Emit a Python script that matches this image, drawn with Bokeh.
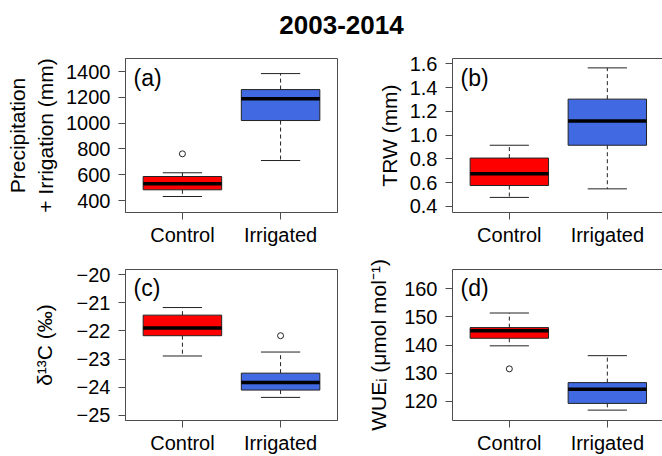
from bokeh.plotting import figure
from bokeh.models import (FixedTicker, LinearAxis, Label, Range1d,
                          PrintfTickFormatter, ColumnDataSource)
from bokeh.layouts import column, row
from bokeh.embed import file_html
from bokeh.resources import INLINE

# ---------------- data ----------------
categories = ["Control", "Irrigated"]
positions = [1, 2]

# (a) Precipitation + Irrigation (mm)
a_low = [431, 710]
a_q1 = [483, 1020]
a_med = [529, 1188]
a_q3 = [586, 1260]
a_high = [615, 1384]
a_out_cat = ["Control"]
a_out_val = [762]
a_ticks = [400, 600, 800, 1000, 1200, 1400]

# (b) TRW (mm)
b_low = [0.476, 0.548]
b_q1 = [0.576, 0.915]
b_med = [0.675, 1.119]
b_q3 = [0.807, 1.303]
b_high = [0.915, 1.566]
b_out_cat = []
b_out_val = []
b_ticks = [0.4, 0.6, 0.8, 1.0, 1.2, 1.4, 1.6]

# (c) d13C (permil)
c_low = [-22.89, -24.36]
c_q1 = [-22.17, -24.10]
c_med = [-21.90, -23.83]
c_q3 = [-21.44, -23.50]
c_high = [-21.17, -22.75]
c_out_cat = ["Irrigated"]
c_out_val = [-22.17]
c_ticks = [-25, -24, -23, -22, -21, -20]

# (d) WUEi
d_low = [139.7, 116.8]
d_q1 = [142.4, 119.2]
d_med = [145.1, 124.2]
d_q3 = [146.2, 126.6]
d_high = [151.4, 136.2]
d_out_cat = ["Control"]
d_out_val = [131.5]
d_ticks = [120, 130, 140, 150, 160]

TITLE = "2003-2014"

FILLS = ["#FF0000", "#4169E1"]
FRAME = "#4d4d4d"
FONT = "Liberation Sans"
BOXW = 0.8
CAPW = 0.4


def panel(tag, ylabel, low, q1, med, q3, high, out_cat, out_val, ticks,
          ylim, xlim, width, height, borders, open_right, label_standoff,
          tick_fmt=None):
    bl, br, bt, bb = borders
    p = figure(width=width, height=height, x_range=Range1d(*xlim),
               y_range=Range1d(*ylim), output_backend="svg",
               toolbar_location=None, tools="",
               min_border_left=bl, min_border_right=br,
               min_border_top=bt, min_border_bottom=bb)
    p.xgrid.visible = False
    p.ygrid.visible = False
    p.background_fill_color = "white"
    p.border_fill_color = "white"

    src = ColumnDataSource(dict(
        x=positions, low=low, q1=q1, med=med, q3=q3, high=high,
        xl=[x - BOXW / 2 for x in positions], xr=[x + BOXW / 2 for x in positions],
        cl=[x - CAPW / 2 for x in positions], cr=[x + CAPW / 2 for x in positions],
        color=FILLS))

    p.segment(x0="x", y0="q3", x1="x", y1="high", source=src,
              line_color="#222222", line_width=1, line_dash="4 3")
    p.segment(x0="x", y0="q1", x1="x", y1="low", source=src,
              line_color="#222222", line_width=1, line_dash="4 3")
    p.segment(x0="cl", y0="high", x1="cr", y1="high", source=src,
              line_color="#222222", line_width=1)
    p.segment(x0="cl", y0="low", x1="cr", y1="low", source=src,
              line_color="#222222", line_width=1)
    p.vbar(x="x", width=BOXW, bottom="q1", top="q3", source=src,
           fill_color="color", line_color="#222222", line_width=1)
    p.segment(x0="xl", y0="med", x1="xr", y1="med", source=src,
              line_color="black", line_width=3.5)
    if out_val:
        ox = [positions[categories.index(c)] for c in out_cat]
        p.scatter(x=ox, y=out_val, marker="circle", size=6,
                  fill_color=None, line_color="#222222", line_width=1)

    p.xaxis.ticker = FixedTicker(ticks=positions)
    p.xaxis.major_label_overrides = {pos: c for pos, c in zip(positions, categories)}
    p.yaxis.ticker = FixedTicker(ticks=ticks)
    if tick_fmt == "1f":
        p.yaxis.formatter = PrintfTickFormatter(format="%.1f")
    elif tick_fmt == "minus":
        p.yaxis.major_label_overrides = {t: ("\u2212" + str(abs(t)) if t < 0 else str(t)) for t in ticks}

    for ax in (p.xaxis[0], p.yaxis[0]):
        ax.major_tick_in = 0
        ax.major_tick_out = 7
        ax.minor_tick_line_color = None
        ax.axis_line_color = FRAME
        ax.major_tick_line_color = FRAME
        ax.major_label_text_font = FONT
        ax.major_label_text_font_size = "20px"
        ax.major_label_text_color = "black"
    p.xaxis.major_label_standoff = 4
    p.yaxis.major_label_standoff = 8
    p.yaxis.axis_label = ylabel
    p.yaxis.axis_label_text_font = FONT
    p.yaxis.axis_label_text_font_size = "21px"
    p.yaxis.axis_label_text_font_style = "normal"
    p.yaxis.axis_label_text_color = "black"
    p.yaxis.axis_label_standoff = label_standoff

    if open_right:
        p.outline_line_color = None
        top = LinearAxis(ticker=FixedTicker(ticks=[]), major_label_text_font_size="0px",
                         axis_line_color=FRAME, major_tick_line_color=None,
                         minor_tick_line_color=None)
        p.add_layout(top, "above")
    else:
        p.outline_line_color = FRAME

    lx = xlim[0] + (xlim[1] - xlim[0]) * 8 / (width - bl - br)
    ly = ylim[1] - (ylim[1] - ylim[0]) * 6 / (height - bt - bb)
    p.add_layout(Label(x=lx, y=ly, text=tag, text_baseline="top", text_align="left",
                       text_font=FONT, text_font_size="23px", text_color="black"))
    return p


XL = (0.42, 2.58)
XR = (0.42, 2.563)

fa = panel("(a)", "Precipitation\n+ Irrigation (mm)", a_low, a_q1, a_med, a_q3, a_high,
           a_out_cat, a_out_val, a_ticks, (307, 1501), XL, 345, 210,
           (125, 8, 18, 38), False, 6)
fb = panel("(b)", "TRW (mm)", b_low, b_q1, b_med, b_q3, b_high,
           b_out_cat, b_out_val, b_ticks, (0.349, 1.645), XR, 317, 210,
           (107, 0, 18, 38), True, 6, tick_fmt="1f")
fc = panel("(c)", "\u03b4\u00b9\u00b3C (\u2030)", c_low, c_q1, c_med, c_q3, c_high,
           c_out_cat, c_out_val, c_ticks, (-25.18, -19.82), XL, 345, 206,
           (125, 8, 19, 34), False, 18, tick_fmt="minus")
fd = panel("(d)", "WUE\u1d62 (\u03bcmol mol\u207b\u00b9)", d_low, d_q1, d_med, d_q3, d_high,
           d_out_cat, d_out_val, d_ticks, (113.1, 166.9), XR, 317, 206,
           (107, 0, 19, 34), True, 11)

# title strip (a figure of its own so that its geometry is fixed)
TW, TH = 662, 40
tf = figure(width=TW, height=TH, x_range=Range1d(0, TW), y_range=Range1d(0, TH),
            output_backend="svg", toolbar_location=None, tools="",
            min_border=0, min_border_left=0, min_border_right=0,
            min_border_top=0, min_border_bottom=0)
tf.axis.visible = False
tf.grid.visible = False
tf.outline_line_color = None
tf.background_fill_color = "white"
tf.border_fill_color = "white"
tf.add_layout(Label(x=TW / 2 + 10, y=TH - 24, text=TITLE, text_align="center",
                    text_baseline="middle", text_font=FONT, text_font_size="26px",
                    text_font_style="bold", text_color="black"))

layout = column(tf, row(fa, fb), row(fc, fd))

with open("out.html", "w") as f:
    f.write(file_html(layout, INLINE))
